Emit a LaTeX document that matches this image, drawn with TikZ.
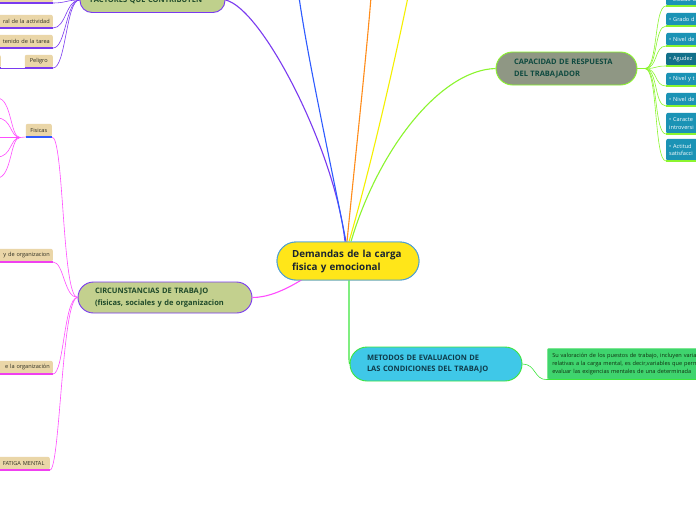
\documentclass[tikz,border=0pt]{standalone}
\usepackage{fontspec}
\setmainfont{Open Sans}
\definecolor{cyellow}{HTML}{FFE619}
\definecolor{cblueb}{HTML}{4B9FD6}
\definecolor{ctext}{HTML}{1A2430}
\definecolor{facfill}{HTML}{BFD08C}
\definecolor{cpurple}{HTML}{7A3AF0}
\definecolor{darkgreen}{HTML}{1F4A2A}
\definecolor{circfill}{HTML}{C3D08E}
\definecolor{capfill}{HTML}{8F9784}
\definecolor{cgreen}{HTML}{8BF52E}
\definecolor{captext}{HTML}{0F4A40}
\definecolor{metfill}{HTML}{3FC8E8}
\definecolor{metborder}{HTML}{3CE63C}
\definecolor{mettext}{HTML}{0F3A4A}
\definecolor{leaffill}{HTML}{EAD6A8}
\definecolor{leaftext}{HTML}{2E2E22}
\definecolor{cblue}{HTML}{2E5BFF}
\definecolor{corange}{HTML}{FF8C1A}
\definecolor{cyel}{HTML}{F5F000}
\definecolor{cpink}{HTML}{FF4DFF}
\definecolor{cmag}{HTML}{F040F0}
\definecolor{itemfill}{HTML}{1B93B5}
\definecolor{itemdark}{HTML}{12708A}
\definecolor{tbfill}{HTML}{3FD46E}
\definecolor{tbborder}{HTML}{7CEB8C}
\definecolor{tbtext}{HTML}{103010}
\begin{document}
\begin{tikzpicture}[x=1pt,y=-1pt,
  topic/.style={draw, line width=0.9pt, align=left, inner ysep=0pt,
    font=\bfseries\fontsize{7.5}{11.5}\selectfont},
  leaf/.style={fill=leaffill, rounded corners=2pt, text=leaftext, inner xsep=3pt,
    inner ysep=0pt, minimum height=13pt, align=right, font=\fontsize{5.6}{6.5}\selectfont},
  item/.style={fill=itemfill, rounded corners=2pt, text=white, inner xsep=3pt,
    inner ysep=0pt, minimum height=13pt, align=left, text width=44pt,
    anchor=south west, font=\fontsize{5.6}{7.5}\selectfont},
  purpleline/.style={cpurple, line width=0.6pt},
  purpleunder/.style={cpurple, line width=1.3pt},
  pinkline/.style={cpink, line width=0.6pt},
  pinkunder/.style={cmag, line width=1.3pt},
  greenline/.style={cgreen, line width=0.6pt},
  greenunder/.style={cgreen, line width=1.2pt},
  mainline/.style={line width=1.1pt}
]
\useasboundingbox (0,0) rectangle (696,520);
\clip (0,0) rectangle (696,520);
\fill[white] (0,0) rectangle (696,520);

% free ends at top
\coordinate (bTop) at (299,-3);
\coordinate (oTop) at (371,-3);
\coordinate (yTop) at (408,-3);

% main topics
\node[topic, fill=cyellow, draw=cblueb, minimum width=142pt, minimum height=38pt,
  text width=112pt, inner xsep=15pt, rounded corners=19pt, text=ctext,
  font=\bfseries\fontsize{9.8}{13}\selectfont] (c) at (348,261) {Demandas de la carga\\fisica y emocional};

\node[topic, fill=facfill, draw=cpurple, minimum width=145pt, minimum height=25pt,
  text width=125pt, inner xsep=10pt, rounded corners=12pt, text=darkgreen] (fac) at (152.5,0) {FACTORES QUE CONTRIBUYEN};

\node[topic, fill=circfill, draw=cpurple, minimum width=174pt, minimum height=31pt,
  text width=140pt, inner xsep=17pt, rounded corners=15.5pt, text=darkgreen] (circ) at (165,297.5) {CIRCUNSTANCIAS DE TRABAJO\\(fisicas, sociales y de organizacion};

\node[topic, fill=capfill, draw=cgreen, minimum width=141pt, minimum height=33pt,
  text width=105pt, inner xsep=18pt, rounded corners=16.5pt, text=captext] (cap) at (566.5,68.5) {CAPACIDAD DE RESPUESTA\\DEL TRABAJADOR};

\node[topic, fill=metfill, draw=metborder, minimum width=172pt, minimum height=34pt,
  text width=138pt, inner xsep=17pt, rounded corners=17pt, text=mettext] (met) at (436,364) {METODOS DE EVALUACION DE\\LAS CONDICIONES DEL TRABAJO};

% main connectors
\draw[mainline, cpurple] ([xshift=-3pt]c.north) .. controls (335,150) and (262,8) .. (fac.east);
\draw[mainline, cblue] ([xshift=-2pt]c.north) .. controls (330,160) and (308,60) .. (bTop);
\draw[mainline, corange] ([xshift=-1pt]c.north) .. controls (355,160) and (366,60) .. (oTop);
\draw[mainline, cyel] ([xshift=1pt]c.north) .. controls (370,170) and (395,60) .. (yTop);
\draw[mainline, cgreen] ([xshift=3pt]c.north) .. controls (378,150) and (440,70) .. (cap.west);
\draw[mainline, cpink] (303,279) .. controls (282,292) and (266,297.5) .. (circ.east);
\draw[mainline, metborder] ([xshift=1pt]c.south) -- (349,352) .. controls (349,362) .. (met.west);

% redraw centre over connectors
\node[topic, fill=cyellow, draw=cblueb, minimum width=142pt, minimum height=38pt,
  text width=112pt, inner xsep=15pt, rounded corners=19pt, text=ctext,
  font=\bfseries\fontsize{9.8}{13}\selectfont] at (348,261) {Demandas de la carga\\fisica y emocional};

% FACTORES leaves
\node[leaf, anchor=south east, text width=64pt] (f1) at (53,3) {};
\node[leaf, anchor=south east, text width=64pt] (f2) at (53,28) {ral de la actividad};
\node[leaf, anchor=south east, text width=64pt] (f3) at (53,48) {tenido de la tarea};
\node[leaf, anchor=south east, text width=22pt, align=center] (f4) at (53,68) {Peligro};
\node[leaf, anchor=south east, text width=40pt] (f5) at (1,68) {};
\foreach \n in {f1,f2,f3,f4,f5} \draw[purpleunder] (\n.south west) -- (\n.south east);
\draw[purpleline] (f1.south east) .. controls (66,3) and (66,0) .. (fac.west);
\draw[purpleline] (f2.south east) .. controls (66,28) and (66,0) .. (fac.west);
\draw[purpleline] (f3.south east) .. controls (66,48) and (66,0) .. (fac.west);
\draw[purpleline] (f4.south east) .. controls (66,68) and (66,0) .. (fac.west);
\draw[purpleline] (f5.south east) -- (f4.south west);

% CIRCUNSTANCIAS leaves
\node[leaf, anchor=south east, text width=20pt, align=center] (fis) at (52,137) {Fisicas};
\coordinate (fj) at (20,137.5);
\coordinate (fc1) at (-3,98);
\coordinate (fc2) at (-3,118);
\coordinate (fc3) at (-3,137.5);
\coordinate (fc4) at (-3,157);
\coordinate (fc5) at (-3,178);
\draw[pinkline] (fis.south west) -- (fj);
\draw[pinkline] (fj) -- (fc3);
\draw[pinkline] (fj) .. controls (10,137.5) and (12,98) .. (fc1);
\draw[pinkline] (fj) .. controls (10,137.5) and (12,118) .. (fc2);
\draw[pinkline] (fj) .. controls (10,137.5) and (12,157) .. (fc4);
\draw[pinkline] (fj) .. controls (10,137.5) and (12,178) .. (fc5);
\draw[cblue, line width=1.3pt] (fis.south west) -- (fis.south east);
\node[leaf, anchor=south east, text width=64pt] (o1) at (53,262) {y de organizacion};
\node[leaf, anchor=south east, text width=64pt] (o2) at (53,374) {e la organización};
\node[leaf, anchor=south east, text width=64pt, align=left] (o3) at (50,470) {\hspace*{20pt}FATIGA MENTAL};
\foreach \n in {o1,o2,o3} \draw[pinkunder] (\n.south west) -- (\n.south east);
\draw[pinkline] (fis.south east) .. controls (64,137) and (62,297.5) .. (circ.west);
\draw[pinkline] (o1.south east) .. controls (64,262) and (64,297.5) .. (circ.west);
\draw[pinkline] (o2.south east) .. controls (64,374) and (64,297.5) .. (circ.west);
\draw[pinkline] (o3.south east) .. controls (60,470) and (62,297.5) .. (circ.west);

% CAPACIDAD items
\node[item] (r1) at (666,6) {• Estado d};
\node[item] (r2) at (666,26) {• Grado d};
\node[item] (r3) at (666,46) {• Nivel de};
\node[item, fill=itemdark] (r4) at (666,66) {• Agudez};
\node[item] (r5) at (666,86) {• Nivel y t};
\node[item] (r6) at (666,106) {• Nivel de};
\node[item, minimum height=21pt] (r7) at (666,134) {• Caracte\\introversi};
\node[item, minimum height=22pt] (r8) at (666,161) {• Actitud\\satisfacci};
\coordinate (cj) at (645,68.5);
\draw[greenline] (cap.east) -- (cj);
\foreach \n in {r1,r2,r3,r4,r5,r6,r7,r8} {
  \draw[greenline] (cj) .. controls (658,68.5) and (654,0|-\n.south west) .. (\n.south west);
  \draw[greenunder] (\n.south west) -- (\n.south east);
}

% METODOS text box
\node[fill=tbfill, draw=tbborder, line width=0.6pt, rounded corners=2pt, anchor=north west,
  text width=170pt, inner xsep=5pt, inner ysep=3pt, minimum height=31pt, align=left,
  text=tbtext, font=\fontsize{5.6}{8}\selectfont] (tb) at (547,348)
  {Su valoración de los puestos de trabajo, incluyen variables\\relativas a la carga mental, es decir,variables que permiten\\evaluar las exigencias mentales de una determinada};
\draw[metborder, line width=0.6pt] (met.east) .. controls (536,364) and (534,380) .. (tb.south west);
\draw[metborder, line width=1.2pt] (tb.south west) -- (tb.south east);
\end{tikzpicture}
\end{document}
